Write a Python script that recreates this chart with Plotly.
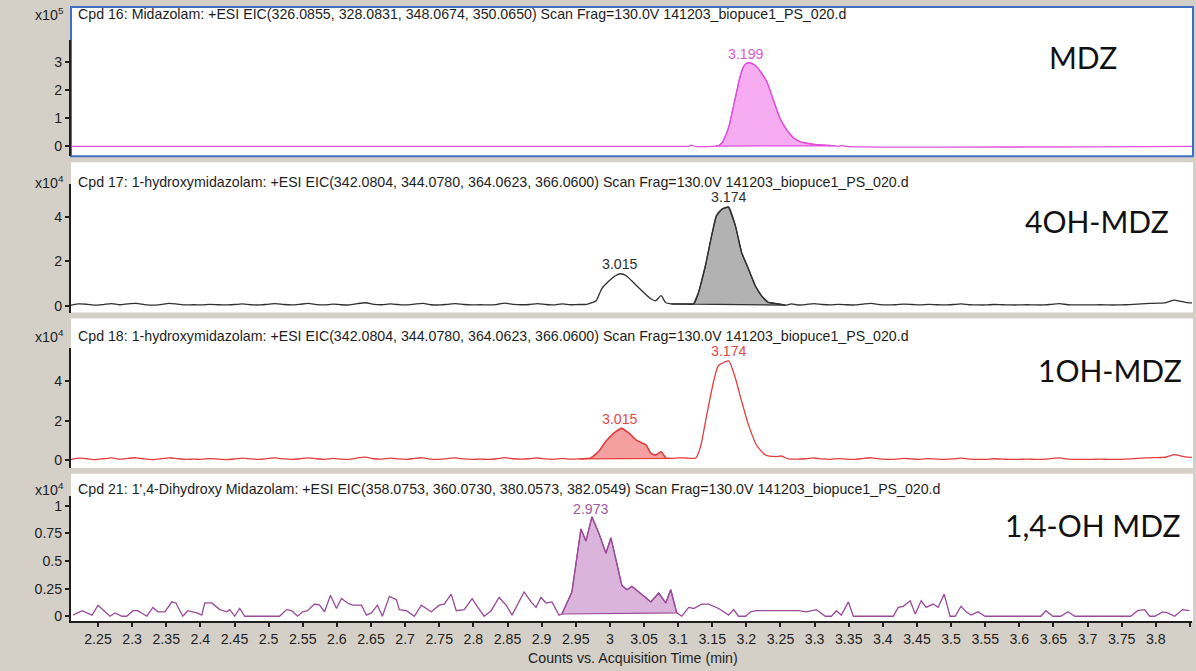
import numpy as np
import plotly.graph_objects as go

# ---------------- DATA ----------------
# Panel 1: MDZ (x10^5 counts)
t_mdz = [2.21, 3.11, 3.115, 3.12, 3.125, 3.15, 3.155, 3.16, 3.165, 3.17, 3.175, 3.18, 3.185,
         3.19, 3.195, 3.20, 3.205, 3.21, 3.215, 3.22, 3.23, 3.24, 3.25, 3.26, 3.27, 3.28,
         3.29, 3.30, 3.31, 3.32, 3.33, 3.335, 3.34, 3.345, 3.853]
v_mdz = [0, 0, 0, 0.04, 0, 0, 0.01, 0.03, 0.15, 0.4, 0.75, 1.3, 1.85,
         2.4, 2.8, 2.95, 2.97, 2.92, 2.83, 2.68, 2.3, 1.6, 0.95, 0.55, 0.28, 0.15,
         0.1, 0.07, 0.05, 0.03, 0.02, 0, 0.03, 0, 0]

# Panel 2: 4OH-MDZ (x10^4 counts)
t_4oh = [2.21, 2.222, 2.234, 2.246, 2.258, 2.27, 2.282, 2.294, 2.306, 2.318, 2.33, 2.342, 2.354,
         2.366, 2.378, 2.39, 2.402, 2.414, 2.426, 2.438, 2.45, 2.462, 2.474, 2.486, 2.498, 2.51,
         2.522, 2.534, 2.546, 2.558, 2.57, 2.582, 2.594, 2.606, 2.618, 2.63, 2.642, 2.654, 2.666,
         2.678, 2.69, 2.702, 2.714, 2.726, 2.738, 2.75, 2.762, 2.774, 2.786, 2.798, 2.81, 2.822,
         2.834, 2.846, 2.858, 2.87, 2.882, 2.894, 2.906, 2.918, 2.93, 2.942, 2.954, 2.966,
         2.975, 2.98, 2.988, 2.999, 3.008, 3.016, 3.024, 3.032, 3.047, 3.06, 3.067, 3.075, 3.082,
         3.09, 3.10, 3.11, 3.123, 3.13, 3.14, 3.149, 3.156, 3.164, 3.174, 3.184, 3.193, 3.203,
         3.213, 3.222, 3.232, 3.247, 3.257, 3.266, 3.275,
         3.287, 3.299, 3.311, 3.323, 3.335, 3.347, 3.359, 3.371, 3.383, 3.395, 3.407, 3.419,
         3.431, 3.443, 3.455, 3.467, 3.479, 3.491, 3.503, 3.515, 3.527, 3.539, 3.551, 3.563,
         3.575, 3.587, 3.599, 3.611, 3.623, 3.635, 3.647, 3.659, 3.671, 3.683, 3.695, 3.707,
         3.719, 3.731, 3.743, 3.755, 3.767, 3.779, 3.791, 3.803, 3.815, 3.827, 3.835, 3.843, 3.853]
v_4oh = [0.02, 0.08, 0.06, 0.02, 0.05, 0.09, 0.04, 0.08, 0.1, 0.05, 0.02, 0.05, 0.1,
         0.07, 0.03, 0.04, 0.03, 0.06, 0.04, 0.03, 0.05, 0.08, 0.04, 0.03, 0.06, 0.09,
         0.05, 0.03, 0.06, 0.1, 0.05, 0.03, 0.07, 0.04, 0.03, 0.09, 0.13, 0.06, 0.04,
         0.08, 0.05, 0.03, 0.07, 0.1, 0.04, 0.03, 0.06, 0.09, 0.05, 0.03, 0.04, 0.03,
         0.05, 0.11, 0.06, 0.04, 0.05, 0.09, 0.05, 0.03, 0.08, 0.04, 0.05, 0.06,
         0.15, 0.22, 0.76, 1.12, 1.35, 1.44, 1.35, 1.12, 0.67, 0.31, 0.22, 0.45, 0.13,
         0.08, 0.07, 0.07, 0.08, 0.6, 1.8, 3.15, 4.05, 4.35, 4.45, 3.6, 2.4, 1.66,
         0.9, 0.45, 0.15, 0.08, 0.02, 0.08, 0.03,
         0.05, 0.09, 0.05, 0.03, 0.06, 0.04, 0.03, 0.07, 0.1, 0.05, 0.03, 0.04,
         0.07, 0.05, 0.03, 0.06, 0.04, 0.03, 0.05, 0.08, 0.04, 0.03, 0.03, 0.05,
         0.04, 0.03, 0.03, 0.04, 0.03, 0.03, 0.06, 0.09, 0.04, 0.03, 0.03, 0.03,
         0.04, 0.03, 0.03, 0.04, 0.06, 0.08, 0.1, 0.11, 0.14, 0.25, 0.2, 0.15, 0.12]

# Panel 3: 1OH-MDZ (x10^4 counts)
t_1oh = [2.21, 2.222, 2.234, 2.246, 2.258, 2.27, 2.282, 2.294, 2.306, 2.318, 2.33, 2.342, 2.354,
         2.366, 2.378, 2.39, 2.402, 2.414, 2.426, 2.438, 2.45, 2.462, 2.474, 2.486, 2.498, 2.51,
         2.522, 2.534, 2.546, 2.558, 2.57, 2.582, 2.594, 2.606, 2.618, 2.63, 2.642, 2.654, 2.666,
         2.678, 2.69, 2.702, 2.714, 2.726, 2.738, 2.75, 2.762, 2.774, 2.786, 2.798, 2.81, 2.822,
         2.834, 2.846, 2.858, 2.87, 2.882, 2.894, 2.906, 2.918, 2.93, 2.942,
         2.955, 2.962, 2.972, 2.984, 2.994, 3.006, 3.017, 3.028, 3.039, 3.053, 3.06, 3.067, 3.075,
         3.082, 3.09, 3.10, 3.11, 3.126, 3.133, 3.142, 3.152, 3.159, 3.174, 3.184, 3.193, 3.203,
         3.215, 3.228, 3.243, 3.251, 3.262,
         3.275, 3.287, 3.299, 3.311, 3.323, 3.335, 3.347, 3.359, 3.371, 3.383, 3.395, 3.407, 3.419,
         3.431, 3.443, 3.455, 3.467, 3.479, 3.491, 3.503, 3.515, 3.527, 3.539, 3.551, 3.563,
         3.575, 3.587, 3.599, 3.611, 3.623, 3.635, 3.647, 3.659, 3.671, 3.683, 3.695, 3.707,
         3.719, 3.731, 3.743, 3.755, 3.767, 3.779, 3.791, 3.803, 3.815, 3.827, 3.835, 3.843, 3.853]
v_1oh = [0.03, 0.09, 0.06, 0.02, 0.06, 0.1, 0.04, 0.08, 0.11, 0.05, 0.02, 0.06, 0.11,
         0.07, 0.03, 0.04, 0.03, 0.07, 0.04, 0.02, 0.05, 0.09, 0.05, 0.03, 0.07, 0.1,
         0.05, 0.03, 0.06, 0.11, 0.06, 0.03, 0.08, 0.04, 0.03, 0.1, 0.14, 0.06, 0.04,
         0.09, 0.05, 0.03, 0.08, 0.11, 0.04, 0.03, 0.07, 0.1, 0.05, 0.03, 0.04, 0.03,
         0.06, 0.12, 0.06, 0.04, 0.06, 0.1, 0.05, 0.03, 0.08, 0.04,
         0.05, 0.06, 0.1, 0.45, 0.95, 1.37, 1.62, 1.37, 1.0, 0.76, 0.34, 0.25, 0.42,
         0.1, 0.08, 0.1, 0.1, 0.1, 0.7, 2.3, 4.0, 4.8, 5.05, 4.15, 3.0, 1.8,
         0.75, 0.25, 0.17, 0.2, 0.05,
         0.04, 0.06, 0.1, 0.05, 0.03, 0.07, 0.04, 0.03, 0.08, 0.11, 0.05, 0.03, 0.04,
         0.08, 0.05, 0.03, 0.07, 0.04, 0.03, 0.05, 0.09, 0.04, 0.03, 0.03, 0.06,
         0.04, 0.03, 0.03, 0.04, 0.03, 0.03, 0.07, 0.1, 0.04, 0.03, 0.03, 0.03,
         0.04, 0.03, 0.03, 0.04, 0.07, 0.09, 0.11, 0.12, 0.15, 0.27, 0.22, 0.16, 0.13]

# Panel 4: 1,4-OH MDZ (x10^4 counts)
t_14oh = [2.2135, 2.2266, 2.2412, 2.25, 2.2675, 2.2749, 2.285, 2.292, 2.3012, 2.308, 2.3216,
          2.3304, 2.3377, 2.348, 2.3582, 2.364, 2.3743, 2.3816, 2.3947, 2.402, 2.4064, 2.4167,
          2.4284, 2.4386, 2.443, 2.4503, 2.4576, 2.465, 2.516, 2.5263, 2.5336, 2.5424, 2.5497,
          2.557, 2.5673, 2.5746, 2.5819, 2.5906, 2.5994, 2.6067, 2.6155, 2.6228, 2.636, 2.6433,
          2.6506, 2.6594, 2.6667, 2.6769, 2.6871, 2.6915, 2.7018, 2.7135, 2.7237, 2.7383, 2.75,
          2.7573, 2.7675, 2.7749, 2.7865, 2.7982, 2.8056, 2.8158, 2.826, 2.8377, 2.848, 2.8567,
          2.8743, 2.8845, 2.8918, 2.8991, 2.9064, 2.9152, 2.9254, 2.9298, 2.9444, 2.9576, 2.9649,
          2.9737, 2.9839, 2.9942, 3.0015, 3.0102, 3.0175, 3.0249, 3.0322, 3.0424, 3.0526, 3.06,
          3.0716, 3.0819, 3.0892, 3.098, 3.1053, 3.1155, 3.1228, 3.1345, 3.1447, 3.1594, 3.174,
          3.1813, 3.1886, 3.1988, 3.2061, 3.2149, 3.272, 3.2763, 3.288, 3.3026, 3.3158, 3.3246,
          3.3319, 3.3392, 3.3494, 3.3568, 3.4152, 3.4226, 3.4299, 3.4401, 3.4474, 3.4562, 3.4635,
          3.4737, 3.481, 3.4898, 3.4985, 3.5059, 3.5146, 3.5219, 3.5292, 3.5395, 3.5497, 3.6316,
          3.6389, 3.6491, 3.6608, 3.6711, 3.6813, 3.7632, 3.7734, 3.7836, 3.7909, 3.7983, 3.8099,
          3.8173, 3.8275, 3.8392, 3.8494]
v_14oh = [0.01, 0.05, 0.01, 0.1, 0.0, 0.03, 0.0, 0.0, 0.05, 0.05, 0.0,
          0.08, 0.04, 0.04, 0.13, 0.12, 0.0, 0.05, 0.03, 0.01, 0.12, 0.12,
          0.06, 0.04, 0.06, 0.0, 0.07, 0.0, 0.0, 0.06, 0.05, 0.0, 0.04,
          0.05, 0.11, 0.1, 0.04, 0.19, 0.07, 0.16, 0.12, 0.1, 0.1, 0.01,
          0.03, 0.1, 0.0, 0.18, 0.15, 0.06, 0.05, 0.0, 0.1, 0.04, 0.1,
          0.11, 0.2, 0.05, 0.06, 0.16, 0.09, 0.0, 0.05, 0.17, 0.1, 0.01,
          0.22, 0.13, 0.08, 0.17, 0.12, 0.13, 0.01, 0.02, 0.22, 0.79, 0.68,
          0.9, 0.75, 0.57, 0.71, 0.48, 0.28, 0.24, 0.27, 0.22, 0.17, 0.13,
          0.21, 0.12, 0.24, 0.03, 0.0, 0.08, 0.07, 0.11, 0.11, 0.07, 0.01,
          0.06, 0.0, 0.0, 0.04, 0.05, 0.05, 0.05, 0.04, 0.06, 0.0, 0.0,
          0.05, 0.01, 0.13, 0.0, 0.0, 0.08, 0.09, 0.14, 0.02, 0.14, 0.08,
          0.11, 0.08, 0.2, 0.0, 0.0, 0.09, 0.04, 0.01, 0.04, 0.0, 0.0,
          0.05, 0.0, 0.0, 0.04, 0.0, 0.0, 0.05, 0.06, 0.0, 0.0, 0.04,
          0.03, 0.0, 0.06, 0.05]

# Integrated peak windows (start, end) and labelled retention times
win_mdz = (3.155, 3.33)
win_4oh = (3.09, 3.257)
win_1oh = (2.955, 3.09)
win_14oh = (2.9298, 3.098)
rt_mdz = [3.199]
rt_4oh = [3.015, 3.174]
rt_1oh = [3.015, 3.174]
rt_14oh = [2.973]

titles = [
    "Cpd 16: Midazolam: +ESI EIC(326.0855, 328.0831, 348.0674, 350.0650) Scan Frag=130.0V 141203_biopuce1_PS_020.d",
    "Cpd 17: 1-hydroxymidazolam: +ESI EIC(342.0804, 344.0780, 364.0623, 366.0600) Scan Frag=130.0V 141203_biopuce1_PS_020.d",
    "Cpd 18: 1-hydroxymidazolam: +ESI EIC(342.0804, 344.0780, 364.0623, 366.0600) Scan Frag=130.0V 141203_biopuce1_PS_020.d",
    "Cpd 21: 1',4-Dihydroxy Midazolam: +ESI EIC(358.0753, 360.0730, 380.0573, 382.0549) Scan Frag=130.0V 141203_biopuce1_PS_020.d",
]
names = ["MDZ", "4OH-MDZ", "1OH-MDZ", "1,4-OH MDZ"]
exponents = [5, 4, 4, 4]
ytick_vals = [[0, 1, 2, 3], [0, 2, 4], [0, 2, 4], [0, 0.25, 0.5, 0.75, 1]]
ytick_text = [["0", "1", "2", "3"], ["0", "2", "4"], ["0", "2", "4"], ["0", "0.25", "0.5", "0.75", "1"]]
xtick_vals = [2.25, 2.3, 2.35, 2.4, 2.45, 2.5, 2.55, 2.6, 2.65, 2.7, 2.75, 2.8, 2.85, 2.9, 2.95,
              3.0, 3.05, 3.1, 3.15, 3.2, 3.25, 3.3, 3.35, 3.4, 3.45, 3.5, 3.55, 3.6, 3.65, 3.7,
              3.75, 3.8, 3.85]
xtick_text = ["2.25", "2.3", "2.35", "2.4", "2.45", "2.5", "2.55", "2.6", "2.65", "2.7", "2.75",
              "2.8", "2.85", "2.9", "2.95", "3", "3.05", "3.1", "3.15", "3.2", "3.25", "3.3",
              "3.35", "3.4", "3.45", "3.5", "3.55", "3.6", "3.65", "3.7", "3.75", "3.8", " "]
x_title = "Counts vs. Acquisition Time (min)"

# ---------------- STYLE / LAYOUT ----------------
W, H = 1196, 671
def py(p):
    return 1 - p / H
def px(p):
    return p / W

FONT = "Liberation Sans, Arial, sans-serif"
BIG = "Lato, Carlito, Calibri, sans-serif"
TXT = "#1e1e1e"
FS = 14.2

panels = [
    dict(t=t_mdz, v=v_mdz, win=win_mdz, rts=rt_mdz, shape="spline",
         line="#e050dc", fill="rgba(246,172,240,1)", lab="#d85ad4",
         white=(7, 157), dom=(40, 157), zero=147, ppu=28.3, name_y=57, name_x=1083, title_y=14),
    dict(t=t_4oh, v=v_4oh, win=win_4oh, rts=rt_4oh, shape="spline",
         line="#303030", fill="rgba(178,178,178,1)", lab="#303030",
         white=(163, 314), dom=(185, 314), zero=307, ppu=22.25, name_y=222, name_x=1097, title_y=183),
    dict(t=t_1oh, v=v_1oh, win=win_1oh, rts=rt_1oh, shape="spline",
         line="#e53c3c", fill="rgba(244,160,160,1)", lab="#e24a4a",
         white=(320, 470), dom=(350, 470), zero=462, ppu=19.7, name_y=372, name_x=1110, title_y=338),
    dict(t=t_14oh, v=v_14oh, win=win_14oh, rts=rt_14oh, shape="linear",
         line="#9a4a9a", fill="rgba(218,180,218,1)", lab="#a05aa0",
         white=(476, 624), dom=(498, 624), zero=619, ppu=111.0, name_y=527, name_x=1093, title_y=491),
]

X_LEFT, X_RIGHT = 71, 1192
XMIN, XMAX = 2.2104, 3.853

fig = go.Figure()
shapes = []
annotations = []
layout_axes = {}

for i, p in enumerate(panels):
    k = i + 1
    xa = "x" if k == 1 else f"x{k}"
    ya = "y" if k == 1 else f"y{k}"
    t = np.array(p["t"], dtype=float)
    v = np.array(p["v"], dtype=float)

    # integrated peak fill
    s, e = p["win"]
    sel = (t >= s - 1e-9) & (t <= e + 1e-9)
    ft = list(t[sel]) + [t[sel][0]]
    fv = list(v[sel]) + [v[sel][0]]
    fig.add_trace(go.Scatter(x=ft, y=fv, mode="lines", fill="toself", fillcolor=p["fill"],
                             line=dict(color=p["line"], width=1.2), xaxis=xa, yaxis=ya,
                             hoverinfo="skip"))
    # chromatogram line
    fig.add_trace(go.Scatter(x=t, y=v, mode="lines",
                             line=dict(color=p["line"], width=1.3, shape=p["shape"],
                                       smoothing=0.6 if p["shape"] == "spline" else None),
                             xaxis=xa, yaxis=ya))

    # axes
    d0, d1 = p["dom"]
    ylo = (p["zero"] - d1) / p["ppu"]
    yhi = (p["zero"] - d0) / p["ppu"]
    layout_axes["xaxis" if k == 1 else f"xaxis{k}"] = dict(
        domain=[px(X_LEFT), px(X_RIGHT)], range=[XMIN, XMAX], anchor=ya,
        showgrid=False, zeroline=False,
        visible=(k == 4), showline=True, linewidth=2, linecolor="#1e1e1e",
        ticks="outside", ticklen=4, tickwidth=1.5, tickcolor="#1e1e1e",
        tickmode="array", tickvals=xtick_vals, ticktext=xtick_text,
        tickfont=dict(family=FONT, size=FS, color=TXT),
    )
    layout_axes["yaxis" if k == 1 else f"yaxis{k}"] = dict(
        domain=[py(d1), py(d0)], range=[ylo, yhi], anchor=xa,
        showgrid=False, zeroline=False, showline=True, linewidth=2, linecolor="#1e1e1e",
        ticks="outside", ticklen=4, tickwidth=1.5, tickcolor="#1e1e1e",
        tickmode="array", tickvals=ytick_vals[i], ticktext=ytick_text[i],
        tickfont=dict(family=FONT, size=FS, color=TXT),
    )

    # panel white background
    w0, w1 = p["white"]
    shapes.append(dict(type="rect", xref="paper", yref="paper", layer="below",
                       x0=px(X_LEFT), x1=px(X_RIGHT + 1), y0=py(w1), y1=py(w0),
                       fillcolor="white",
                       line=dict(color="#3f6fc0" if k == 1 else "rgba(0,0,0,0)", width=2)))

    # title, exponent, compound name
    annotations.append(dict(xref="paper", yref="paper", x=px(76), y=py(p["title_y"]),
                            xanchor="left", yanchor="middle", showarrow=False,
                            text=titles[i], font=dict(family=FONT, size=FS, color=TXT)))
    annotations.append(dict(xref="paper", yref="paper", x=px(66), y=py(p["title_y"]),
                            xanchor="right", yanchor="middle", showarrow=False,
                            text=f"x10<sup>{exponents[i]}</sup>",
                            font=dict(family=FONT, size=FS, color=TXT)))
    annotations.append(dict(xref="paper", yref="paper", x=px(p["name_x"]), y=py(p["name_y"]),
                            xanchor="center", yanchor="middle", showarrow=False,
                            text=names[i], font=dict(family=BIG, size=30, color="#111111")))
    # peak retention-time labels
    for rt in p["rts"]:
        yv = float(np.interp(rt, t, v))
        annotations.append(dict(xref=xa, yref=ya, x=rt, y=yv, xanchor="center",
                                yanchor="bottom", showarrow=False, text=f"{rt:.3f}",
                                font=dict(family=FONT, size=FS, color=p["lab"])))

annotations.append(dict(xref="paper", yref="paper", x=px(633), y=py(661),
                        xanchor="center", yanchor="middle", showarrow=False,
                        text=x_title, font=dict(family=FONT, size=FS, color=TXT)))

fig.update_layout(
    width=W, height=H, margin=dict(l=0, r=0, t=0, b=0),
    paper_bgcolor="#d4d0c8", plot_bgcolor="rgba(0,0,0,0)",
    showlegend=False, shapes=shapes, annotations=annotations,
    font=dict(family=FONT, size=FS, color=TXT),
    **layout_axes,
)

fig.write_html("out.html", config={"displayModeBar": False},
               post_script="document.body.style.margin='0';document.body.style.padding='0';"
                           "document.documentElement.style.overflow='hidden';")
